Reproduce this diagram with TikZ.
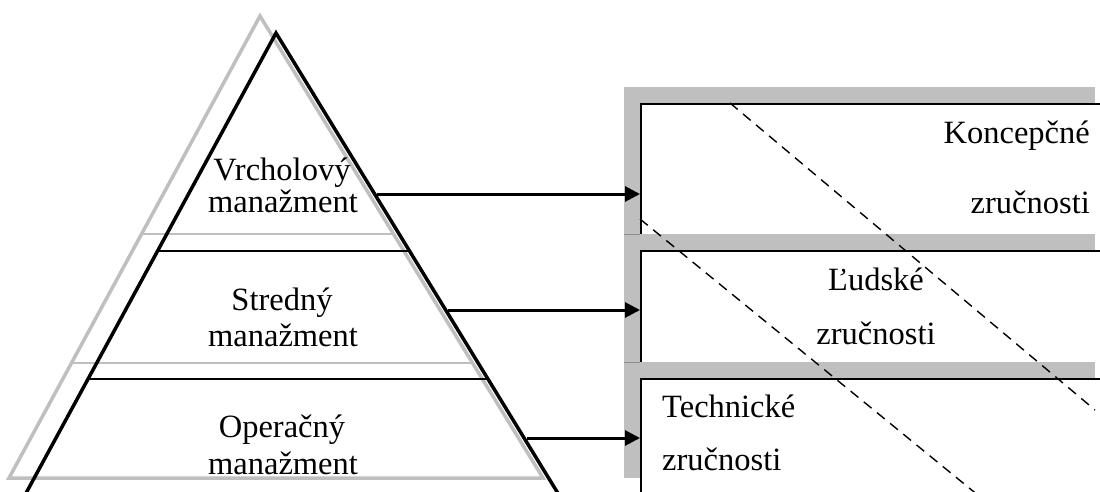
\documentclass[tikz,border=0pt]{standalone}
\usepackage{fontspec}
\setmainfont{Liberation Serif}
\usetikzlibrary{arrows.meta}
\definecolor{shade}{RGB}{191,191,191}
\begin{document}
\begin{tikzpicture}[x=1pt,y=-1pt,
  txt/.style={inner sep=0pt,font=\fontsize{32.5}{38}\selectfont},
  shadowtri/.style={draw=shade,line width=3.5pt,line join=miter},
  shadowline/.style={draw=shade,line width=2.2pt},
  tri/.style={draw=black,line width=3.5pt,line join=miter},
  level/.style={draw=black,line width=2.4pt},
  shadowbox/.style={fill=shade},
  skillbox/.style={draw=black,line width=2.4pt,fill=white,anchor=north west,inner sep=0pt,minimum width=471pt},
  link/.style={draw=black,line width=3pt,-{Triangle[length=15pt,width=15pt]}},
  guide/.style={draw=black,line width=1.4pt,dash pattern=on 10pt off 7pt}
]
\useasboundingbox (0,0) rectangle (1100,491);
\clip (0,0) rectangle (1100,491);
\fill[white] (0,0) rectangle (1100,491);

% pyramid shadow
\draw[shadowtri] (260,16) -- (9,478) -- (543,478) -- cycle;
\draw[shadowline] (142,234) -- (394,234);
\draw[shadowline] (72,363) -- (473,363);
% pyramid
\draw[tri] (276,33) -- (25,495) -- (559,495) -- cycle;
\draw[level] (158,251) -- (410,251);
\draw[level] (88,379) -- (489,379);

% pyramid texts
\node[txt,anchor=base] (v1) at (282,180) {Vrcholový};
\node[txt,anchor=base] (v2) at (283,212) {manažment};
\node[txt,anchor=base] (s1) at (282,310) {Stredný};
\node[txt,anchor=base] (s2) at (283,346) {manažment};
\node[txt,anchor=base] (o1) at (282,437) {Operačný};
\node[txt,anchor=base] (o2) at (283,474) {manažment};

% skill boxes with shadows
\fill[shadowbox] (624,87) rectangle (1095,234);
\node[skillbox,minimum height=147pt] (b1) at (640,103) {};
\fill[shadowbox] (624,234) rectangle (1095,362);
\draw[shade!75!black,line width=0.6pt] (624,234) -- (640,234);
\node[skillbox,minimum height=128pt] (b2) at (640,250) {};
\fill[shadowbox] (624,362) rectangle (1095,478);
\draw[shade!75!black,line width=0.6pt] (624,362) -- (640,362);
\node[skillbox,minimum height=116pt] (b3) at (640,378) {};

% box texts
\node[txt,anchor=base east] (k1) at (1090,143) {Koncepčné};
\node[txt,anchor=base east] (k2) at (1090,213) {zručnosti};
\node[txt,anchor=base] (l1) at (876,290) {Ľudské};
\node[txt,anchor=base] (l2) at (876,344) {zručnosti};
\node[txt,anchor=base west] (t1) at (662,417) {Technické};
\node[txt,anchor=base west] (t2) at (662,470) {zručnosti};

% dashed guides
\coordinate (da) at (730,103);
\coordinate (db) at (1095,410);
\coordinate (dc) at (640,219);
\coordinate (dd) at (990,505);
\draw[guide] (da) -- (db);
\draw[guide] (dc) -- (dd);

% arrows
\coordinate (a1) at (377,194);
\coordinate (a2) at (448,310);
\coordinate (a3) at (527,438);
\draw[link] (a1) -- (b1.west |- a1);
\draw[link] (a2) -- (b2.west |- a2);
\draw[link] (a3) -- (b3.west |- a3);
\end{tikzpicture}
\end{document}
